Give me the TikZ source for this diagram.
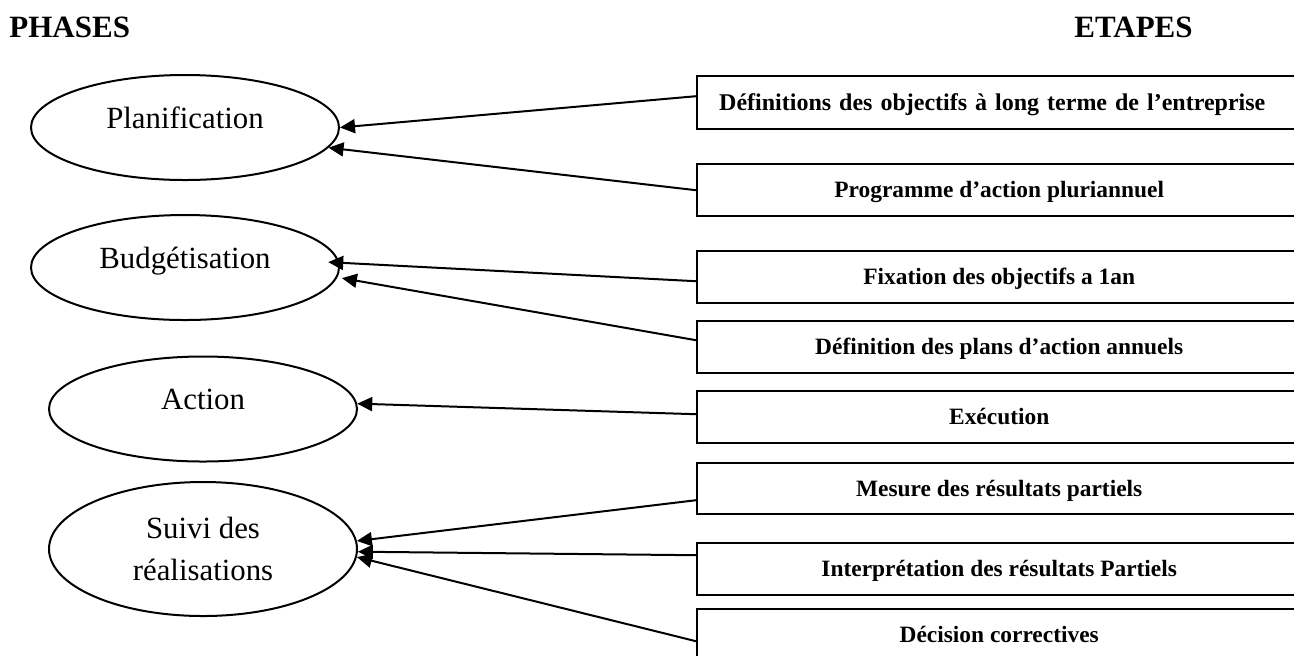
\documentclass[tikz,border=0pt]{standalone}
\usepackage{fontspec}
\setmainfont{Liberation Serif}
\usetikzlibrary{shapes.geometric,arrows.meta}

\begin{document}
\begin{tikzpicture}[x=0.5pt,y=-0.5pt,
  phase/.style={draw,ellipse,line width=1pt,inner sep=0pt,
    minimum width=154pt,minimum height=52.5pt,
    font=\fontsize{15.4}{21}\selectfont,align=center},
  oneline/.style={text height=10.5pt,text depth=10pt},
  etape/.style={draw,rectangle,line width=1.2pt,anchor=north west,
    minimum width=302pt,minimum height=26.5pt,inner sep=0pt,
    text height=9pt,text depth=1.5pt,
    font=\bfseries\fontsize{11.7}{14}\selectfont},
  lien/.style={line width=1pt,-{Triangle[length=7.5pt,width=7pt]}},
  titre/.style={font=\bfseries\fontsize{15.5}{18}\selectfont,inner sep=0pt}]

\clip (0,0) rectangle (1294,655);

% column headings
\node[titre,anchor=base west] (phases) at (9,37) {PHASES};
\node[titre,anchor=base east] (etapes) at (1193,37) {ETAPES};

% phases
\node[phase,oneline] (plan) at (185,127.5) {Planification};
\node[phase,oneline] (budget) at (185,267.5) {Budgétisation};
\node[phase,oneline] (action) at (203,409) {Action};
\node[phase,minimum height=67pt] (suivi) at (203,549) {Suivi des\\réalisations};

% steps (the boxes run on past the right edge)
\node[etape,text width=280pt,inner xsep=11pt,align=left,
      font=\bfseries\fontsize{12}{14}\selectfont] (e1) at (696,75)
  {Définitions des objectifs à long terme de l’entreprise};
\node[etape,minimum height=26pt] (e2) at (696,163) {Programme d’action pluriannuel};
\node[etape,minimum height=26pt] (e3) at (696,250) {Fixation des objectifs a 1an};
\node[etape,minimum height=26pt] (e4) at (696,320) {Définition des plans d’action annuels};
\node[etape,minimum height=26pt] (e5) at (696,390) {Exécution};
\node[etape,minimum height=25.5pt] (e6) at (696,462) {Mesure des résultats partiels};
\node[etape,minimum height=26pt] (e7) at (696,542) {Interprétation des résultats Partiels};
\node[etape,minimum height=26pt] (e8) at (696,608) {Décision correctives};

% links from steps to phases
\draw[lien] ([yshift=3.25pt]e1.west) -- (plan.east);
\draw[lien] (e2.west) -- (plan.-8.5);
\draw[lien] ([yshift=-2pt]e3.west) -- ([xshift=-5.5pt]budget.2.5);
\draw[lien] ([yshift=3.5pt]e4.west) -- ([xshift=2.5pt]budget.-4.6);
\draw[lien] ([yshift=1.5pt]e5.west) -- (action.2.6);
\draw[lien] ([yshift=-5.75pt]e6.west) -- (suivi.3.8);
\draw[lien] ([yshift=7pt]e7.west) -- (suivi.-1.9);
\draw[lien] ([yshift=-3pt]e8.west) -- (suivi.-3);
\end{tikzpicture}
\end{document}
